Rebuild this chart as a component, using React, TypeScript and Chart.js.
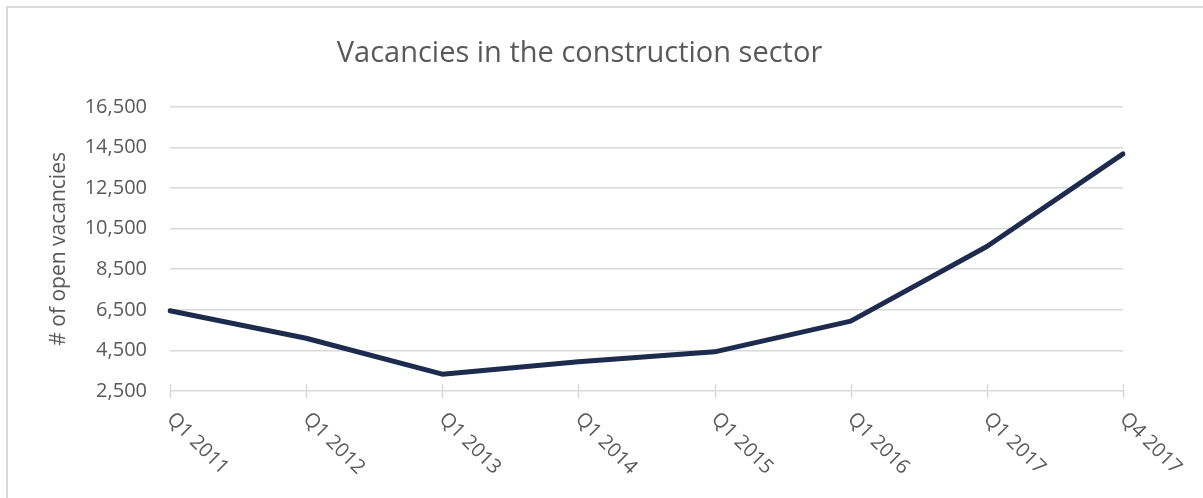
import React, { useEffect, useRef } from "react";
import { Chart, registerables } from "chart.js";

Chart.register(...registerables);

const categories: string[] = ["Q1 2011", "Q1 2012", "Q1 2013", "Q1 2014", "Q1 2015", "Q1 2016", "Q1 2017", "Q4 2017"];
const vacancies: number[] = [6450, 5100, 3330, 3940, 4430, 5940, 9620, 14180];
const yMin = 2500;
const yMax = 16500;
const yStep = 2000;
const chartTitle = "Vacancies in the construction sector";
const yAxisTitle = "# of open vacancies";

const W = 1203;
const H = 498;
const FONT = "'Open Sans', 'Noto Sans', sans-serif";
const TEXT = "#595959";
const GRID = "#D9D9D9";

const xLabelsPlugin = {
  id: "xLabels",
  beforeDatasetsDraw(chart: any) {
    const ctx = chart.ctx;
    const xs = chart.scales.x;
    const y0 = chart.chartArea.bottom;
    ctx.save();
    ctx.strokeStyle = GRID;
    ctx.lineWidth = 1.5;
    categories.forEach((_, i) => {
      const x = Math.round(xs.getPixelForTick(i)) + 0.5;
      ctx.beginPath();
      ctx.moveTo(x, y0 - 7);
      ctx.lineTo(x, y0 + 7);
      ctx.stroke();
    });
    ctx.restore();
  },
  afterDraw(chart: any) {
    const ctx = chart.ctx;
    const xs = chart.scales.x;
    const y0 = chart.chartArea.bottom;
    ctx.save();
    ctx.fillStyle = TEXT;
    ctx.font = `20px ${FONT}`;
    ctx.textAlign = "left";
    ctx.textBaseline = "alphabetic";
    categories.forEach((label, i) => {
      const x = xs.getPixelForTick(i);
      ctx.save();
      ctx.translate(x - 4, y0 + 29);
      ctx.rotate(Math.PI / 4);
      ctx.fillText(label, 0, 0);
      ctx.restore();
    });
    ctx.restore();
  },
};

export default function App() {
  const ref = useRef<HTMLCanvasElement | null>(null);

  useEffect(() => {
    if (!ref.current) return;
    const chart = new Chart(ref.current, {
      type: "line",
      data: {
        labels: categories,
        datasets: [
          {
            label: yAxisTitle,
            data: vacancies,
            borderColor: "#1d2b4f",
            backgroundColor: "#1d2b4f",
            borderWidth: 5,
            pointRadius: 0,
            pointHoverRadius: 0,
            tension: 0,
            borderCapStyle: "round",
            borderJoinStyle: "round",
            fill: false,
          },
        ],
      },
      options: {
        responsive: false,
        animation: false,
        devicePixelRatio: 1,
        layout: { padding: { left: 36, right: 80, top: 0, bottom: 0 } },
        plugins: {
          legend: { display: false },
          tooltip: { enabled: false },
          title: {
            display: true,
            text: chartTitle,
            color: TEXT,
            font: { family: FONT, size: 29, weight: "normal" },
            padding: { top: 36, bottom: 36 },
          },
        },
        scales: {
          x: {
            offset: false,
            grid: { display: false },
            border: { display: false },
            ticks: { display: false },
            afterFit: (scale: any) => {
              scale.height = 107;
            },
          },
          y: {
            min: yMin,
            max: yMax,
            grid: { color: GRID, lineWidth: 1.5, drawTicks: false },
            border: { display: false },
            ticks: {
              stepSize: yStep,
              padding: 23,
              color: TEXT,
              font: { family: FONT, size: 20 },
              callback: (v: any) => Number(v).toLocaleString("en-US"),
            },
            title: {
              display: true,
              text: yAxisTitle,
              color: TEXT,
              font: { family: FONT, size: 21 },
              padding: { top: 10, bottom: 0 },
            },
            afterFit: (scale: any) => {
              scale.width = 134;
            },
          },
        },
      },
      plugins: [xLabelsPlugin],
    });
    return () => chart.destroy();
  }, []);

  return (
    <div style={{ position: "absolute", left: 0, top: 0, width: W, height: H, overflow: "hidden", background: "#fff" }}>
      <div
        style={{
          position: "absolute",
          left: 6,
          top: 6,
          width: 1300,
          height: 600,
          border: `2px solid ${GRID}`,
          boxSizing: "border-box",
        }}
      />
      <canvas ref={ref} width={W} height={H} style={{ position: "absolute", left: 0, top: 0, width: W, height: H }} />
    </div>
  );
}
